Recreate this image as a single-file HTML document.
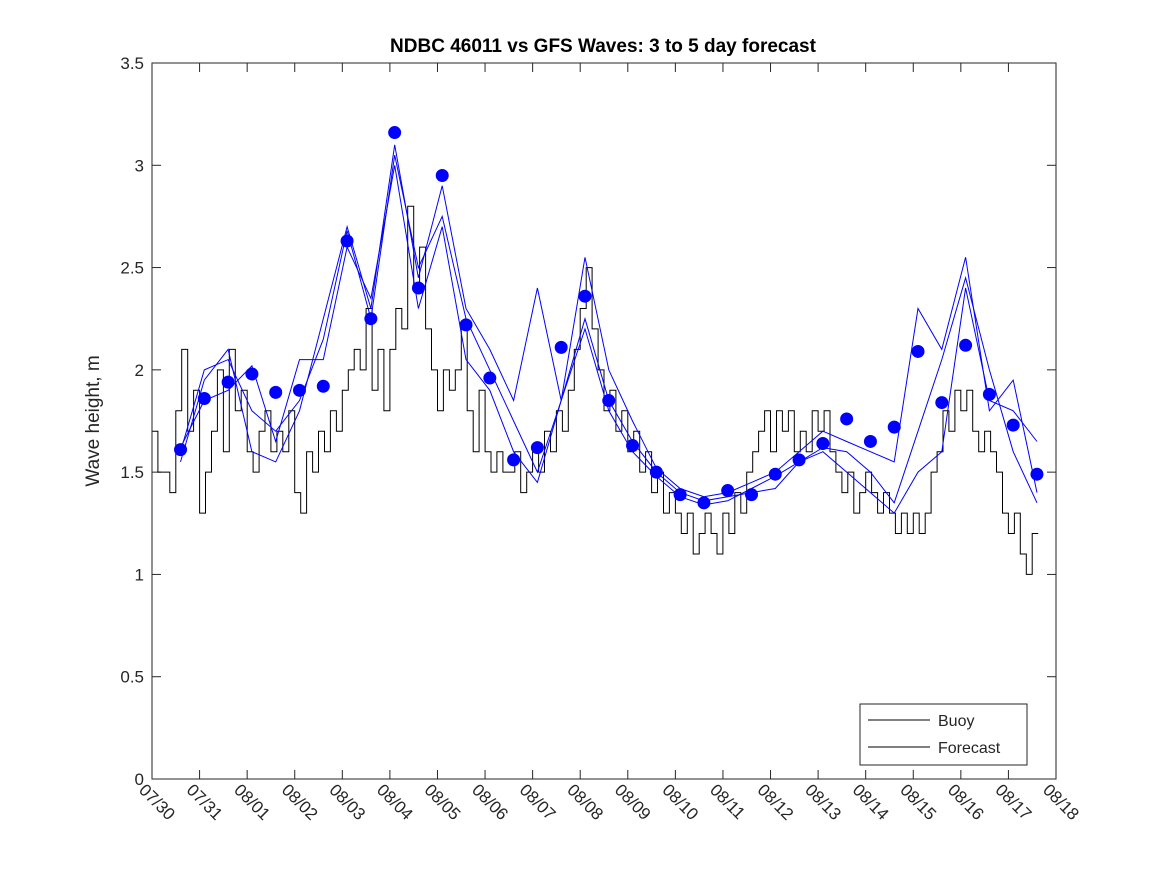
<!DOCTYPE html>
<html><head><meta charset="utf-8"><style>
body{margin:0;background:#fff;}
svg{display:block;font-family:"Liberation Sans","DejaVu Sans",sans-serif;}
</style></head><body>
<svg id="chart" width="1167" height="875">
<rect width="1167" height="875" fill="#fff"/>
<text x="603" y="52" text-anchor="middle" font-size="19" font-weight="bold">NDBC 46011 vs GFS Waves: 3 to 5 day forecast</text>
<text transform="translate(99,421) rotate(-90)" text-anchor="middle" font-size="19" fill="#262626">Wave height, m</text>
<g id="grid"></g>
<g id="series"></g>
<rect x="152" y="63" width="904" height="716" fill="none" stroke="#262626" stroke-width="1"/>
<g>
<rect x="860" y="704" width="167" height="61" fill="#fff" stroke="#262626"/>
<line x1="868" y1="720" x2="930" y2="720" stroke="#000"/>
<text x="938" y="726" font-size="16" fill="#262626">Buoy</text>
<line x1="868" y1="747" x2="930" y2="747" stroke="#000"/>
<text x="938" y="753" font-size="16" fill="#262626">Forecast</text>
</g>
</svg>
<script>
const xLabels=["07/30","07/31","08/01","08/02","08/03","08/04","08/05","08/06","08/07","08/08","08/09","08/10","08/11","08/12","08/13","08/14","08/15","08/16","08/17","08/18"];
const yTicks=[0,0.5,1,1.5,2,2.5,3,3.5];
const yTickLabels=["0","0.5","1","1.5","2","2.5","3","3.5"];
const dotStart=0.6, dotStep=0.5;
const dotValues=[1.61,1.86,1.94,1.98,1.89,1.90,1.92,2.63,2.25,3.16,2.40,2.95,2.22,1.96,1.56,1.62,2.11,2.36,1.85,1.63,1.50,1.39,1.35,1.41,1.39,1.49,1.56,1.64,1.76,1.65,1.72,2.09,1.84,2.12,1.88,1.73,1.49];
const forecast1=[1.55,1.95,2.10,1.60,1.55,1.80,2.25,2.70,2.30,3.10,2.45,2.90,2.30,2.10,1.85,2.40,1.85,2.55,2.00,1.75,1.52,1.42,1.38,1.40,1.45,1.50,1.60,1.70,1.65,1.60,1.55,2.30,2.10,2.55,1.80,1.95,1.40];
const forecast2=[1.60,2.00,2.05,1.80,1.70,1.85,2.15,2.68,2.25,3.05,2.50,2.75,2.25,2.00,1.75,1.50,1.85,2.25,1.85,1.65,1.50,1.40,1.36,1.38,1.40,1.42,1.55,1.62,1.60,1.50,1.35,1.70,2.05,2.45,2.00,1.60,1.35];
const forecast3=[1.62,1.85,1.90,2.02,1.65,2.05,2.05,2.60,2.35,3.00,2.30,2.70,2.05,1.90,1.60,1.45,1.85,2.20,1.80,1.60,1.48,1.38,1.34,1.36,1.42,1.48,1.55,1.60,1.50,1.40,1.30,1.50,1.60,2.40,1.85,1.80,1.65];
const buoyStep=0.125;
const buoyValues=[
1.7,1.5,1.5,1.4,1.8,2.1,1.7,1.9,
1.3,1.5,1.7,2.0,1.6,2.1,1.8,1.9,
1.6,1.5,1.7,1.8,1.6,1.7,1.6,1.8,
1.4,1.3,1.6,1.5,1.7,1.6,1.8,1.7,
1.9,2.0,2.1,2.0,2.3,1.9,2.1,1.8,
2.1,2.3,2.2,2.8,2.4,2.6,2.2,2.0,
1.8,2.0,1.9,2.0,2.2,1.8,1.6,1.9,
1.6,1.5,1.6,1.5,1.5,1.6,1.4,1.5,
1.6,1.5,1.7,1.6,1.8,1.7,1.9,2.1,
2.3,2.5,2.2,2.0,1.8,1.9,1.7,1.8,
1.6,1.7,1.5,1.6,1.4,1.5,1.3,1.4,
1.3,1.2,1.3,1.1,1.2,1.3,1.2,1.1,
1.3,1.2,1.4,1.3,1.5,1.6,1.7,1.8,
1.6,1.8,1.7,1.8,1.6,1.7,1.6,1.8,
1.7,1.8,1.6,1.5,1.4,1.5,1.3,1.4,
1.5,1.4,1.3,1.4,1.3,1.2,1.3,1.2,
1.3,1.2,1.3,1.5,1.6,1.8,1.7,1.9,
1.8,1.9,1.7,1.6,1.7,1.6,1.5,1.3,
1.2,1.3,1.1,1.0,1.2];

const X0=152,X1=1056,Y0=779,Y1=63;
const xS=d=>X0+(X1-X0)*d/19;
const yS=v=>Y0-(Y0-Y1)*v/3.5;
const NS="http://www.w3.org/2000/svg";
const grid=document.getElementById('grid'), ser=document.getElementById('series');
function mk(tag,attrs,parent){const e=document.createElementNS(NS,tag);for(const k in attrs)e.setAttribute(k,attrs[k]);parent.appendChild(e);return e;}
xLabels.forEach((lab,i)=>{
  const x=xS(i);
  const t1=mk('line',{x1:x,x2:x,y1:Y0,y2:Y0-9,stroke:'#262626'},grid);
  
  
  const t2=mk('line',{x1:x,x2:x,y1:Y1,y2:Y1+9,stroke:'#262626'},grid);
  
  
  const tx=mk('text',{x:0,y:0,'font-size':17,fill:'#262626',transform:`translate(${x-14},${Y0+12}) rotate(45)`},grid);
  tx.textContent=lab;
  
  
});
yTicks.forEach((v,i)=>{
  const y=yS(v);
  const t1=mk('line',{x1:X0,x2:X0+9,y1:y,y2:y,stroke:'#262626'},grid);
  
  
  const t2=mk('line',{x1:X1,x2:X1-9,y1:y,y2:y,stroke:'#262626'},grid);
  
  
  const tx=mk('text',{x:X0-8,y:y+6,'font-size':17,fill:'#262626','text-anchor':'end'},grid);
  tx.textContent=yTickLabels[i];
  
  
});
let d='';
buoyValues.forEach((v,i)=>{
  const xa=xS(i*buoyStep), xb=xS((i+1)*buoyStep), y=yS(v);
  d+=(i===0?'M':'L')+xa.toFixed(1)+','+y.toFixed(1)+'L'+xb.toFixed(1)+','+y.toFixed(1);
});
const bl=mk('path',{d:d,fill:'none',stroke:'#000','stroke-width':1},ser);


[forecast1,forecast2,forecast3].forEach((arr,k)=>{
  const pts=arr.map((v,i)=>xS(dotStart+i*dotStep).toFixed(1)+','+yS(v).toFixed(1)).join(' ');
  const pl=mk('polyline',{points:pts,fill:'none',stroke:'#0000ff','stroke-width':1},ser);
  
  
});
dotValues.forEach((v,i)=>{
  const c=mk('circle',{cx:xS(dotStart+i*dotStep),cy:yS(v),r:6.5,fill:'#0000ff'},ser);
  
  
});
</script>
</body></html>
